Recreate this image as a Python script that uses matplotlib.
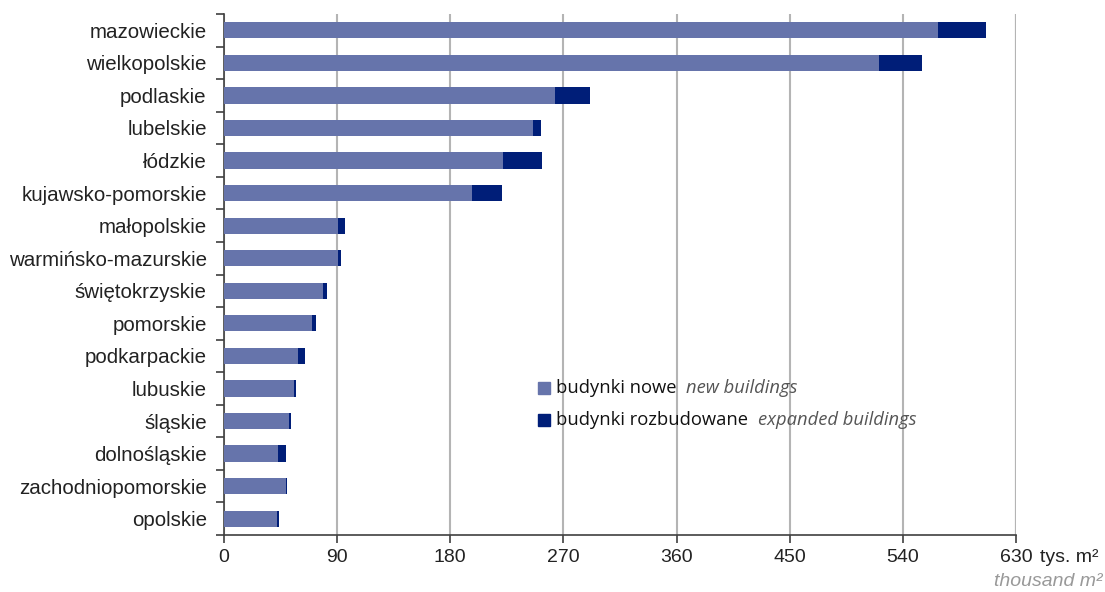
import matplotlib
matplotlib.use("Agg")
import matplotlib.pyplot as plt
import numpy as np
from matplotlib.patches import Rectangle

regions = ["mazowieckie", "wielkopolskie", "podlaskie", "lubelskie", "łódzkie",
           "kujawsko-pomorskie", "małopolskie", "warmińsko-mazurskie", "świętokrzyskie",
           "pomorskie", "podkarpackie", "lubuskie", "śląskie", "dolnośląskie",
           "zachodniopomorskie", "opolskie"]
new_buildings = [568, 521, 263, 246, 222, 197, 91, 91, 79, 70, 59, 56, 52, 43, 49, 42.5]
expanded_buildings = [38, 34, 28, 6.5, 31, 24.5, 5.5, 2, 3, 3, 5.5, 1, 1.5, 6.5, 1, 1]
xticks = [0, 90, 180, 270, 360, 450, 540, 630]

c_new = "#6674ab"
c_exp = "#001e78"

plt.rcParams['font.family'] = ['Liberation Sans', 'DejaVu Sans']

fig = plt.figure(figsize=(11.05, 5.92), dpi=100)
ax = fig.add_axes([224/1105, 1-535/592, (1016-224)/1105, (535-14)/592])

n = len(regions)
y = np.arange(n)
ax.barh(y, new_buildings, height=0.5, color=c_new, zorder=3)
ax.barh(y, expanded_buildings, left=new_buildings, height=0.5, color=c_exp, zorder=3)

ax.set_xlim(0, 630)
ax.set_ylim(n - 0.5, -0.5)
ax.set_xticks(xticks)
ax.set_xticklabels([str(t) for t in xticks], fontsize=14, color="#222222")
ax.set_yticks(y)
ax.set_yticklabels(regions, fontsize=14.8, color="#222222")
ax.tick_params(axis='y', length=0, pad=12.5)
ax.set_yticks(np.arange(-0.5, n, 1.0), minor=True)
ax.tick_params(axis='y', which='minor', length=6, width=1.2, color="#404040")
ax.tick_params(axis='x', length=6, width=1.2, color="#404040", pad=4)

ax.xaxis.grid(True, color="#b4b4b4", linewidth=1.5, zorder=0)
ax.set_axisbelow(True)
for s in ['top', 'right']:
    ax.spines[s].set_visible(False)
ax.spines['left'].set_color("#404040")
ax.spines['bottom'].set_color("#404040")
ax.spines['left'].set_linewidth(1.2)
ax.spines['bottom'].set_linewidth(1.2)
ax.axvline(630, color="#b4b4b4", linewidth=1.5, zorder=0)

# unit labels
fig.text(1040/1105, 1-557/592, "tys. m²", fontsize=14, color="#222222", ha='left', va='center')
fig.text(1103/1105, 1-582/592, "thousand m²", fontsize=14, color="#999999",
         ha='right', va='center', style='italic')

# legend (manual)
lf = ['Open Sans', 'DejaVu Sans']
entries = [("budynki nowe", "new buildings", c_new, 388),
           ("budynki rozbudowane", "expanded buildings", c_exp, 420)]
for reg, ital, col, py in entries:
    fig.patches.append(Rectangle((538/1105, 1-(py+6)/592), 12/1105, 12/592,
                                 transform=fig.transFigure, color=col, figure=fig))
    t = fig.text(556/1105, 1-py/592, reg, fontsize=13.2, color="#111111",
                 ha='left', va='center', family=lf)
    ax.annotate(ital, xy=(1, 0.5), xycoords=t, xytext=(7, 0), textcoords='offset points',
                fontsize=13.2, color="#555555", style='italic', ha='left', va='center',
                family=lf, annotation_clip=False)

fig.savefig("out.png", dpi=100)
